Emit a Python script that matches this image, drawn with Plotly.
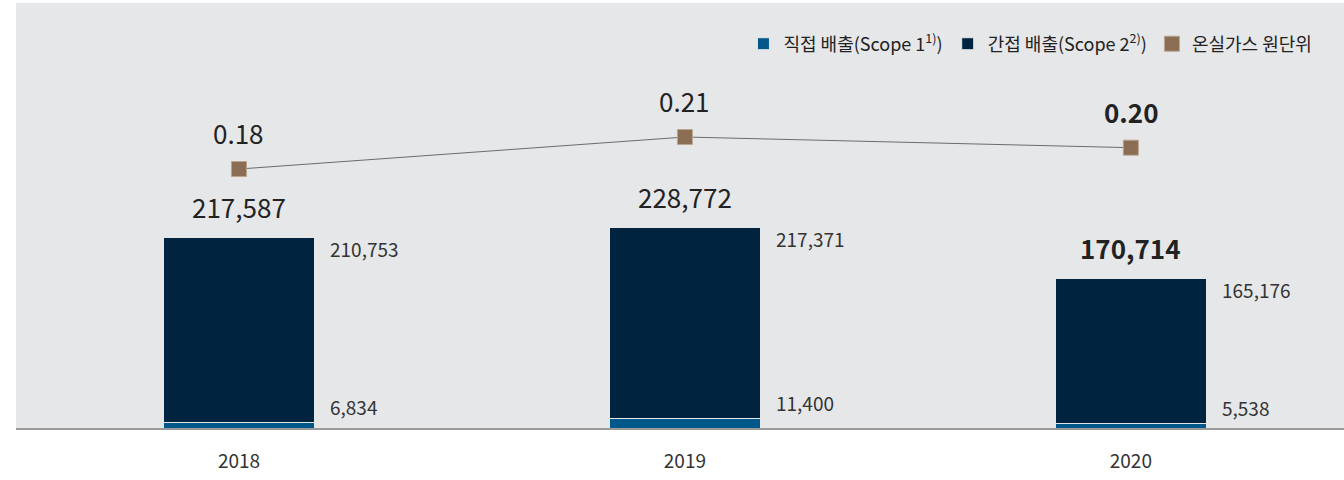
import plotly.graph_objects as go

years = ["2018", "2019", "2020"]
scope1 = [6834, 11400, 5538]
scope2 = [210753, 217371, 165176]
totals = [217587, 228772, 170714]
intensity = [0.18, 0.21, 0.20]

FONT = "Noto Sans CJK KR"
C1 = "#00578a"
C2 = "#002340"
CM = "#8a6d52"
BG = "#e6e7e9"

fig = go.Figure()
fig.add_trace(go.Bar(x=years, y=scope1, name="직접 배출(Scope 1<sup>1)</sup>)",
                     marker=dict(color=C1, line=dict(color=BG, width=1)), width=0.34))
fig.add_trace(go.Bar(x=years, y=scope2, name="간접 배출(Scope 2<sup>2)</sup>)",
                     marker=dict(color=C2, line=dict(color=BG, width=1)), width=0.34))
fig.add_trace(go.Scatter(x=years, y=intensity, mode="lines", yaxis="y2",
                         line=dict(color="#6b6b6b", width=1), showlegend=False))
fig.add_trace(go.Scatter(x=years, y=intensity, mode="markers", yaxis="y2", name="온실가스 원단위",
                         marker=dict(symbol="square", size=15, color=CM,
                                     line=dict(color="#b9a58f", width=1))))

ann = []
for i, y in enumerate(years):
    bold = i == 2
    ann.append(dict(x=i, y=totals[i], xref="x", yref="y", text=(f"<b>{totals[i]:,}</b>" if bold else f"{totals[i]:,}"),
                    showarrow=False, yanchor="bottom", yshift=10,
                    font=dict(family=FONT, size=26, color="#222")))
    ann.append(dict(x=i, y=intensity[i], xref="x", yref="y2",
                    text=(f"<b>{intensity[i]:.2f}</b>" if bold else f"{intensity[i]:.2f}"),
                    showarrow=False, yanchor="bottom", yshift=16,
                    font=dict(family=FONT, size=26, color="#222")))
    ann.append(dict(x=i + 0.17, y=totals[i], xref="x", yref="y", text=f"{scope2[i]:,}",
                    showarrow=False, xanchor="left", yanchor="middle", xshift=13, yshift=-11,
                    font=dict(family=FONT, size=19, color="#333")))
    ann.append(dict(x=i + 0.17, y=scope1[i], xref="x", yref="y", text=f"{scope1[i]:,}",
                    showarrow=False, xanchor="left", yanchor="bottom", xshift=13, yshift=0,
                    font=dict(family=FONT, size=19, color="#333")))

fig.update_layout(
    width=1344, height=480,
    margin=dict(l=16, r=0, t=3, b=52),
    barmode="stack",
    paper_bgcolor="white", plot_bgcolor=BG,
    font=dict(family=FONT, size=18, color="#222"),
    xaxis=dict(type="category", range=[-0.5, 2.478], showline=True, linecolor="#9a9a9a", linewidth=1.5,
               ticks="outside", ticklen=15, tickcolor="rgba(0,0,0,0)",
               tickfont=dict(family=FONT, size=19, color="#333"), showgrid=False, fixedrange=True),
    yaxis=dict(range=[0, 484800], showgrid=False, zeroline=False, showticklabels=False, fixedrange=True),
    yaxis2=dict(range=[-0.0627, 0.3356], overlaying="y", showgrid=False, zeroline=False,
                showticklabels=False, fixedrange=True),
    legend=dict(orientation="h", x=0.98, xanchor="right", y=0.9035, yanchor="middle",
                bgcolor="rgba(0,0,0,0)", font=dict(family=FONT, size=18, color="#222"),
                traceorder="normal"),
    annotations=ann,
    showlegend=True,
)

fig.write_html("out.html", config={"displayModeBar": False},
               post_script="document.body.style.margin='0';document.body.style.overflow='hidden';")
